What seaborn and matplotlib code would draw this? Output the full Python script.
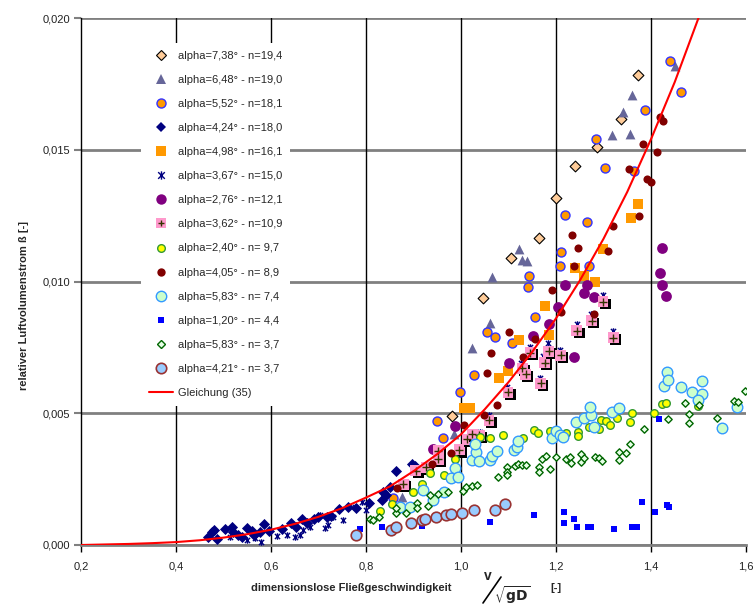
import matplotlib
matplotlib.use("Agg")
import matplotlib.pyplot as plt
import matplotlib.patheffects as pe
from matplotlib.lines import Line2D
from matplotlib.path import Path
import seaborn as sns
import pandas as pd

# ---- data ----
x_738 = [0.981, 1.046, 1.106, 1.164, 1.199, 1.241, 1.286, 1.336, 1.372]
b_738 = [0.00490, 0.00939, 0.01088, 0.01164, 0.01316, 0.01438, 0.01512, 0.01617, 0.01785]

x_648 = [0.875, 0.985, 1.023, 1.061, 1.065, 1.123, 1.129, 1.138, 1.318, 1.355, 1.340, 1.359, 1.450]
b_648 = [0.00183, 0.00420, 0.00748, 0.00844, 0.01016, 0.01123, 0.01082, 0.01079, 0.01555, 0.01560,
         0.01642, 0.01708, 0.01819]

x_552 = [0.857, 0.950, 0.962, 0.997, 1.028, 1.054, 1.071, 1.108, 1.156, 1.141, 1.144, 1.208, 1.269,
         1.211, 1.218, 1.265, 1.285, 1.303, 1.365, 1.387, 1.464, 1.441]
b_552 = [0.00177, 0.00469, 0.00405, 0.00580, 0.00644, 0.00810, 0.00789, 0.00768, 0.00865, 0.00979,
         0.01022, 0.01059, 0.01059, 0.01111, 0.01252, 0.01227, 0.01542, 0.01431, 0.01418, 0.01650,
         0.01719, 0.01837]

x_424 = [0.467, 0.476, 0.481, 0.486, 0.504, 0.518, 0.520, 0.531, 0.538, 0.549, 0.559, 0.564, 0.577,
         0.585, 0.596, 0.623, 0.642, 0.652, 0.665, 0.675, 0.690, 0.699, 0.717, 0.727, 0.743, 0.762,
         0.780, 0.807, 0.833, 0.836, 0.843, 0.850, 0.864, 0.896, 0.903]
b_424 = [0.000315, 0.000505, 0.000569, 0.000216, 0.000619, 0.000694, 0.000505, 0.000380, 0.000292,
         0.000657, 0.000531, 0.000380, 0.000505, 0.000797, 0.000531, 0.000596, 0.000846, 0.000694,
         0.000998, 0.000846, 0.000975, 0.00105, 0.00105, 0.00110, 0.00135, 0.00145, 0.00142, 0.00161,
         0.00171, 0.00202, 0.00190, 0.00221, 0.00282, 0.00307, 0.00300]

x_498 = [1.007, 1.020, 1.081, 1.098, 1.123, 1.186, 1.176, 1.239, 1.258, 1.283, 1.299, 1.357, 1.373]
b_498 = [0.00521, 0.00521, 0.00634, 0.00660, 0.00779, 0.00798, 0.00908, 0.01052, 0.01021, 0.00999,
         0.01124, 0.01241, 0.01295]

x_367 = [0.513, 0.549, 0.566, 0.580, 0.612, 0.633, 0.650, 0.661, 0.668, 0.682, 0.703, 0.713, 0.720,
         0.731, 0.752, 0.777, 0.791, 0.801, 0.836, 0.875, 0.885, 1.022, 1.039, 1.059, 1.097, 1.127,
         1.145, 1.167, 1.173, 1.183, 1.209, 1.244, 1.273, 1.299, 1.321]
b_367 = [0.000292, 0.000190, 0.000254, 0.000125, 0.000342, 0.000380, 0.000315, 0.000380, 0.000569,
         0.000694, 0.00114, 0.000634, 0.000759, 0.00107, 0.000949, 0.00145, 0.00164, 0.00133, 0.00190,
         0.00234, 0.00240, 0.00430, 0.00430, 0.00493, 0.00601, 0.00690, 0.00753, 0.00633, 0.00717,
         0.00765, 0.00740, 0.00839, 0.00876, 0.00949, 0.00812]

x_276 = [0.941, 0.987, 1.101, 1.152, 1.185, 1.204, 1.218, 1.237, 1.258, 1.265, 1.281, 1.423, 1.420,
         1.423, 1.431]
b_276 = [0.00363, 0.00453, 0.00690, 0.00793, 0.00840, 0.00904, 0.00988, 0.00712, 0.00957, 0.00987,
         0.00940, 0.01127, 0.01032, 0.00988, 0.00944]

x_362 = [0.878, 0.905, 0.927, 0.952, 0.952, 0.996, 1.013, 1.024, 1.038, 1.059, 1.099, 1.129, 1.136,
         1.146, 1.168, 1.176, 1.185, 1.210, 1.244, 1.275, 1.299, 1.321]
b_362 = [0.00231, 0.00282, 0.00295, 0.00357, 0.00325, 0.00361, 0.00401, 0.00421, 0.00417, 0.00474,
         0.00580, 0.00671, 0.00648, 0.00730, 0.00614, 0.00692, 0.00736, 0.00720, 0.00813, 0.00851,
         0.00923, 0.00787]

x_240 = [0.829, 0.855, 0.899, 0.917, 0.934, 0.964, 0.987, 1.039, 1.061, 1.089, 1.131, 1.153, 1.162,
         1.188, 1.222, 1.246, 1.246, 1.269, 1.290, 1.294, 1.306, 1.313, 1.329, 1.355, 1.361, 1.406,
         1.423, 1.431, 1.500]
b_240 = [0.00130, 0.00156, 0.00202, 0.00231, 0.00272, 0.00266, 0.00326, 0.00409, 0.00405, 0.00417,
         0.00407, 0.00436, 0.00426, 0.00434, 0.00426, 0.00430, 0.00414, 0.00447, 0.00439, 0.00474,
         0.00472, 0.00455, 0.00481, 0.00468, 0.00500, 0.00500, 0.00534, 0.00540, 0.00528]

x_405 = [0.865, 0.939, 0.980, 1.006, 1.049, 1.076, 1.054, 1.064, 1.101, 1.131, 1.156, 1.192, 1.211,
         1.237, 1.233, 1.247, 1.280, 1.310, 1.320, 1.375, 1.354, 1.384, 1.391, 1.401, 1.412, 1.418,
         1.426]
b_405 = [0.00215, 0.00306, 0.00350, 0.00455, 0.00493, 0.00531, 0.00654, 0.00727, 0.00809, 0.00712,
         0.00781, 0.00967, 0.00885, 0.01059, 0.01175, 0.01126, 0.00876, 0.01117, 0.01212, 0.01248,
         0.01427, 0.01522, 0.01390, 0.01376, 0.01493, 0.01623, 0.01610]

x_583a = [0.871, 0.892, 0.920, 0.941, 0.964, 0.980, 0.987, 0.994, 1.024, 1.031, 1.030, 1.038, 1.061,
          1.065, 1.076, 1.112, 1.118, 1.120, 1.192, 1.199, 1.208, 1.215, 1.243, 1.259, 1.273, 1.272,
          1.281, 1.317, 1.332, 1.427, 1.434, 1.436, 1.464, 1.487, 1.508, 1.508, 1.499, 1.550, 1.582]
b_583a = [0.00144, 0.00144, 0.00209, 0.00171, 0.00202, 0.00253, 0.00291, 0.00259, 0.00323, 0.00354,
          0.00383, 0.00320, 0.00323, 0.00338, 0.00358, 0.00361, 0.00371, 0.00396, 0.00405, 0.00434,
          0.00417, 0.00409, 0.00466, 0.00483, 0.00493, 0.00525, 0.00449, 0.00506, 0.00519, 0.00605,
          0.00655, 0.00626, 0.00598, 0.00580, 0.00622, 0.00572, 0.00550, 0.00445, 0.00525]

x_120 = [0.788, 0.833, 0.918, 1.061, 1.154, 1.217, 1.217, 1.238, 1.244, 1.267, 1.274, 1.322, 1.361,
         1.370, 1.381, 1.408, 1.434, 1.437, 1.417]
b_120 = [0.00060, 0.00067, 0.00073, 0.00087, 0.00114, 0.00124, 0.00082, 0.00098, 0.00067, 0.00067,
         0.00067, 0.00061, 0.00067, 0.00067, 0.00162, 0.00126, 0.00152, 0.00145, 0.00477]

x_583b = [0.808, 0.815, 0.828, 0.864, 0.864, 0.885, 0.908, 0.908, 0.931, 0.934, 0.952, 0.973, 1.004,
          1.010, 1.024, 1.033, 1.077, 1.097, 1.097, 1.097, 1.113, 1.120, 1.129, 1.136, 1.164, 1.164,
          1.171, 1.180, 1.187, 1.201, 1.222, 1.230, 1.231, 1.252, 1.252, 1.260, 1.283, 1.290, 1.296,
          1.333, 1.333, 1.347, 1.355, 1.385, 1.436, 1.471, 1.479, 1.479, 1.501, 1.539, 1.574, 1.583,
          1.597]
b_583b = [0.00098, 0.00095, 0.00107, 0.00120, 0.00139, 0.00120, 0.00158, 0.00139, 0.00148, 0.00190,
          0.00194, 0.00202, 0.00206, 0.00219, 0.00225, 0.00228, 0.00259, 0.00295, 0.00278, 0.00266,
          0.00300, 0.00306, 0.00304, 0.00304, 0.00295, 0.00277, 0.00325, 0.00338, 0.00288, 0.00333,
          0.00326, 0.00335, 0.00310, 0.00344, 0.00316, 0.00329, 0.00335, 0.00329, 0.00319, 0.00354,
          0.00323, 0.00348, 0.00382, 0.00440, 0.00478, 0.00538, 0.00497, 0.00464, 0.00531, 0.00481,
          0.00546, 0.00544, 0.00586]

x_421 = [0.779, 0.852, 0.863, 0.894, 0.917, 0.924, 0.948, 0.969, 0.978, 1.003, 1.028, 1.071, 1.093]
b_421 = [0.00037, 0.00057, 0.00069, 0.00082, 0.00095, 0.00099, 0.00105, 0.00113, 0.00117, 0.00123,
         0.00132, 0.00132, 0.00157]

# Gleichung (35)
curve_x = [0.20, 0.25, 0.30, 0.35, 0.40, 0.45, 0.50, 0.55, 0.60, 0.65, 0.70, 0.75, 0.80, 0.85,
           0.90, 0.95, 1.00, 1.05, 1.10, 1.15, 1.20, 1.25, 1.30, 1.35, 1.40, 1.45, 1.50]
curve_y = [0.00000, 0.00002, 0.00004, 0.00007, 0.00011, 0.00018, 0.00028, 0.00041, 0.00058, 0.00080,
           0.00107, 0.00140, 0.00180, 0.00222, 0.00280, 0.00345, 0.00420, 0.00515, 0.00618, 0.00733,
           0.00860, 0.01003, 0.01162, 0.01340, 0.01540, 0.01757, 0.02000]

x_ticks = [0.2, 0.4, 0.6, 0.8, 1.0, 1.2, 1.4, 1.6]
x_tick_labels = ["0,2", "0,4", "0,6", "0,8", "1,0", "1,2", "1,4", "1,6"]
y_ticks = [0.0, 0.005, 0.010, 0.015, 0.020]
y_tick_labels = ["0,000", "0,005", "0,010", "0,015", "0,020"]

labels = ["alpha=7,38° - n=19,4", "alpha=6,48° - n=19,0", "alpha=5,52° - n=18,1",
          "alpha=4,24° - n=18,0", "alpha=4,98° - n=16,1", "alpha=3,67° - n=15,0",
          "alpha=2,76° - n=12,1", "alpha=3,62° - n=10,9", "alpha=2,40° - n= 9,7",
          "alpha=4,05° - n= 8,9", "alpha=5,83° - n= 7,4", "alpha=1,20° - n= 4,4",
          "alpha=5,83° - n= 3,7", "alpha=4,21° - n= 3,7", "Gleichung (35)"]

# ---- styling ----
sns.set_style("white")
plt.rcParams["font.family"] = ["Liberation Sans", "DejaVu Sans"]

star = Path([(-1, -1), (1, 1), (-1, 1), (1, -1), (0, -1.25), (0, 1.25)],
            [Path.MOVETO, Path.LINETO, Path.MOVETO, Path.LINETO, Path.MOVETO, Path.LINETO])

fig = plt.figure(figsize=(7.54, 6.05), dpi=100)
ax = fig.add_axes([81 / 754, 60 / 605, 665 / 754, 527 / 605])

# (x, y, marker, s, face, edge, lw)
series = [
    (x_738, b_738, "D", 30, "#FFCC99", "black", 0.8),
    (x_648, b_648, "^", 50, "#666699", "#666699", 0),
    (x_552, b_552, "o", 42, "#FF9900", "#3333FF", 1.0),
    (x_424, b_424, "D", 32, "#000080", "#000080", 0),
    (x_498, b_498, "s", 48, "#FF9900", "#FF9900", 0),
    (x_367, b_367, star, 22, "#000080", "#000080", 1.0),
    (x_276, b_276, "o", 60, "#800080", "#800080", 0),
]
series2 = [
    (x_240, b_240, "o", 30, "#FFFF00", "#339933", 1.0),
    (x_405, b_405, "o", 34, "#800000", "#800000", 0),
    (x_583a, b_583a, "o", 58, "#CCFFCC", "#3399FF", 1.0),
    (x_120, b_120, "s", 16, "#0000FF", "#0000FF", 0),
    (x_583b, b_583b, "D", 14, "#E6FFE6", "#006600", 1.0),
    (x_421, b_421, "o", 58, "#99CCFF", "#993333", 1.2),
]

z = 3
for xs, ys, m, s, fc, ec, lw in series:
    sns.scatterplot(x=xs, y=ys, ax=ax, marker=m, s=s, color=fc, edgecolor=ec,
                    linewidth=lw, zorder=z)
    z += 1

# alpha=3,62°: pink squares with shadow and dark plus
sns.scatterplot(x=x_362, y=b_362, ax=ax, marker="s", s=62, color="#FF99CC", linewidth=0,
                zorder=z,
                path_effects=[pe.withSimplePatchShadow(offset=(1.6, -1.6),
                                                       shadow_rgbFace="black", alpha=1.0)])
sns.scatterplot(x=x_362, y=b_362, ax=ax, marker="+", s=28, color="#333300", linewidth=1.0,
                zorder=z + 0.5)
z += 1

for xs, ys, m, s, fc, ec, lw in series2:
    sns.scatterplot(x=xs, y=ys, ax=ax, marker=m, s=s, color=fc, edgecolor=ec,
                    linewidth=lw, zorder=z)
    z += 1

sns.lineplot(x=curve_x, y=curve_y, ax=ax, color="#FF0000", linewidth=1.5, zorder=z)

ax.set_xlim(0.2, 1.6)
ax.set_ylim(0.0, 0.020)
ax.set_xticks(x_ticks)
ax.set_xticklabels(x_tick_labels)
ax.set_yticks(y_ticks)
ax.set_yticklabels(y_tick_labels)

ax.yaxis.grid(True, color="#808080", linewidth=2)
for xv in x_ticks[1:-1]:
    ax.axvline(xv, color="black", linewidth=1, zorder=1)
ax.set_axisbelow(True)

for side in ["top", "right"]:
    ax.spines[side].set_visible(False)
ax.spines["left"].set_color("black")
ax.spines["left"].set_linewidth(1)
ax.spines["bottom"].set_color("#808080")
ax.spines["bottom"].set_linewidth(2)

ax.tick_params(axis="y", direction="out", length=5, width=1.5, color="#808080",
               labelsize=8, labelcolor="#222222", pad=3, left=True)
ax.tick_params(axis="x", direction="out", length=5, width=1, color="black",
               labelsize=8, labelcolor="#222222", pad=7, bottom=True)

# legend
ms = dict(linestyle="none")
handles = [
    Line2D([], [], marker="D", markersize=5, mfc="#FFCC99", mec="black", mew=0.8, **ms),
    Line2D([], [], marker="^", markersize=7, mfc="#666699", mec="#666699", mew=0, **ms),
    Line2D([], [], marker="o", markersize=6.5, mfc="#FF9900", mec="#3333FF", mew=1, **ms),
    Line2D([], [], marker="D", markersize=5, mfc="#000080", mec="#000080", mew=0, **ms),
    Line2D([], [], marker="s", markersize=7, mfc="#FF9900", mec="#FF9900", mew=0, **ms),
    Line2D([], [], marker=star, markersize=6, color="#000080", mew=1, **ms),
    Line2D([], [], marker="o", markersize=7.5, mfc="#800080", mec="#800080", mew=0, **ms),
    (Line2D([], [], marker="s", markersize=7.5, mfc="#FF99CC", mec="#FF99CC", mew=0, **ms),
     Line2D([], [], marker="+", markersize=5, color="#333300", mew=1, **ms)),
    Line2D([], [], marker="o", markersize=5.5, mfc="#FFFF00", mec="#339933", mew=1, **ms),
    Line2D([], [], marker="o", markersize=6, mfc="#800000", mec="#800000", mew=0, **ms),
    Line2D([], [], marker="o", markersize=7.5, mfc="#CCFFCC", mec="#3399FF", mew=1, **ms),
    Line2D([], [], marker="s", markersize=4, mfc="#0000FF", mec="#0000FF", mew=0, **ms),
    Line2D([], [], marker="D", markersize=3.8, mfc="#E6FFE6", mec="#006600", mew=1, **ms),
    Line2D([], [], marker="o", markersize=7.5, mfc="#99CCFF", mec="#993333", mew=1.2, **ms),
    Line2D([], [], color="#FF0000", linewidth=1.5),
]
leg = ax.legend(handles, labels, loc="upper left", bbox_to_anchor=(0.09, 0.953),
                fontsize=8, frameon=True, fancybox=False, labelspacing=1.27,
                handlelength=2.2, handletextpad=0.45, borderpad=0.7, borderaxespad=0)
leg.get_frame().set_facecolor("white")
leg.get_frame().set_edgecolor("none")
leg.get_frame().set_alpha(1.0)
leg.set_zorder(50)

# axis titles
fig.text(24 / 754, 1 - 305 / 605, "relativer Luftvolumenstrom ß [-]", rotation=90,
         fontsize=8, fontweight="bold", ha="center", va="center")
fig.text(351 / 754, 1 - 588 / 605, "dimensionslose Fließgeschwindigkeit", fontsize=8,
         fontweight="bold", ha="center", va="center")
fig.text(488 / 754, 1 - 576 / 605, "v", fontsize=10, fontweight="bold", ha="center",
         va="center")
fig.add_artist(Line2D([483 / 754, 501 / 754], [1 - 603 / 605, 1 - 577 / 605],
                      color="black", linewidth=1.2, transform=fig.transFigure))
fig.text(512 / 754, 1 - 595 / 605, r"$\sqrt{\mathbf{gD}}$", fontsize=10, ha="center",
         va="center")
fig.text(556 / 754, 1 - 588 / 605, "[-]", fontsize=8, fontweight="bold", ha="center",
         va="center")

fig.savefig("out.png", dpi=100)
